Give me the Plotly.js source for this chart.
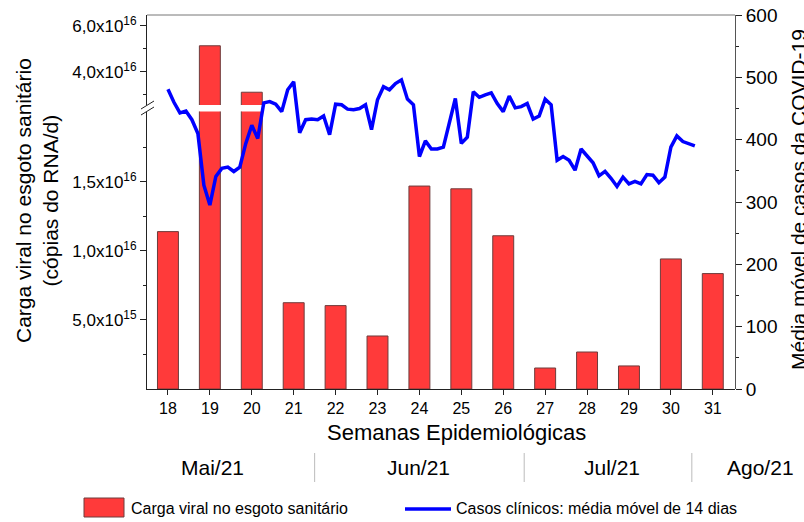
<!DOCTYPE html>
<html>
<head>
<meta charset="utf-8">
<script src="https://cdn.plot.ly/plotly-3.0.1.min.js"></script>
<style>html,body{margin:0;padding:0;background:#fff;}#chart{width:804px;height:522px;}</style>
</head>
<body>
<div id="chart"></div>
<script>
// ---------------- data ----------------
const weeks = [18,19,20,21,22,23,24,25,26,27,28,29,30,31];
const weekLabels = ['18','19','20','21','22','23','24','25','26','27','28','29','30','31'];
const viralLoad = [1.14e16,5.14e16,3.12e16,6.25e15,6.04e15,3.84e15,1.47e16,1.45e16,1.11e16,1.52e15,2.68e15,1.67e15,9.42e15,8.36e15];
// 14-day moving average of clinical cases, one value per day starting at week 18
const lineStartWeek = 18;
const movingAvg = [481,460,443,446,432,410,327,295,341,354,356,349,356,394,423,402,459,461,457,445,
  480,493,411,432,433,432,438,408,457,456,449,448,450,456,416,464,485,480,490,496,
  465,456,373,398,385,385,388,426,466,394,404,477,468,472,475,458,445,470,451,453,
  458,433,438,465,456,367,373,367,351,385,375,363,342,349,338,325,340,329,333,329,
  344,343,331,340,388,406,397,393,390];
const lowTickVals = [5e15,1e16,1.5e16];
const lowTickText = ['5,0x10<sup>15</sup>','1,0x10<sup>16</sup>','1,5x10<sup>16</sup>'];
const lowMinorVals = [2.5e15,7.5e15,1.25e16,1.75e16];
const highTickVals = [4e16,6e16];
const highTickText = ['4,0x10<sup>16</sup>','6,0x10<sup>16</sup>'];
const highMinorVals = [3e16,5e16];
const months = ['Mai/21','Jun/21','Jul/21','Ago/21'];
const monthCenters = [19.07,23.98,28.6,32.13];   // in week units
const monthBounds = [21.5,26.5,30.5];
const barName = 'Carga viral no esgoto sanitário';
const lineName = 'Casos clínicos: média móvel de 14 dias';

// ---------------- layout helpers ----------------
const L=147,R=735,T=15,B=389;
const XMIN=17.5, XMAX=31.53;
const fx = px => (px-L)/(R-L);
const fy = py => (B-py)/(B-T);
const wx = w => (w-XMIN)/(XMAX-XMIN);   // week -> paper x
const FONT = 'Liberation Sans, Arial, Helvetica, sans-serif';
const BAR_COLOR = '#ff3a3a';
const BAR_LINE = 'rgb(110,60,60)';
const BLUE = '#0000ff';

const lineX = movingAvg.map((v,i)=> lineStartWeek + i/7);

const traces = [
  {type:'bar', x:weeks, y:viralLoad, xaxis:'x', yaxis:'y', width:0.5, name:barName,
   marker:{color:BAR_COLOR, line:{color:BAR_LINE, width:1}}, hoverinfo:'skip'},
  {type:'bar', x:weeks, y:viralLoad, xaxis:'x', yaxis:'y2', width:0.5, name:barName,
   marker:{color:BAR_COLOR, line:{color:BAR_LINE, width:1}}, hoverinfo:'skip'},
  {type:'scatter', mode:'lines', x:lineX, y:movingAvg, xaxis:'x', yaxis:'y3', name:lineName,
   line:{color:BLUE, width:3.5}, hoverinfo:'skip'}
];

const leftAxisCommon = {
  tickmode:'array', ticks:'outside', ticklen:6, tickcolor:'#222', tickwidth:1,
  showline:true, linecolor:'#222', linewidth:1, showgrid:false, zeroline:false,
  tickfont:{size:17, color:'#000'}, anchor:'x', side:'left'
};

const shapes = [
  {type:'line', xref:'paper', yref:'paper', x0:0, x1:1, y0:1, y1:1, line:{color:'#777', width:1}},
  {type:'line', xref:'paper', yref:'paper', x0:fx(141), x1:fx(154), y0:fy(115), y1:fy(107), line:{color:'#222', width:1}},
  {type:'line', xref:'paper', yref:'paper', x0:fx(141), x1:fx(154), y0:fy(109), y1:fy(101), line:{color:'#222', width:1}},
  {type:'rect', xref:'paper', yref:'paper', x0:fx(84), x1:fx(124), y0:fy(517), y1:fy(498),
   fillcolor:BAR_COLOR, line:{color:BAR_LINE, width:1}},
  {type:'line', xref:'paper', yref:'paper', x0:fx(405), x1:fx(451), y0:fy(509), y1:fy(509),
   line:{color:BLUE, width:3.5}}
];
monthBounds.forEach(b => shapes.push({type:'line', xref:'paper', yref:'paper', x0:wx(b), x1:wx(b),
  y0:fy(453), y1:fy(482), line:{color:'#bbb', width:1}}));

const annotations = [
  {text:'Semanas Epidemiológicas', xref:'paper', yref:'paper', x:fx(456), y:fy(432),
   xanchor:'center', yanchor:'middle', showarrow:false, font:{size:22}},
  {text:'Carga viral no esgoto sanitário<br>(cópias do RNA/d)', xref:'paper', yref:'paper',
   x:fx(37), y:fy(200), xanchor:'center', yanchor:'middle', textangle:-90, showarrow:false, font:{size:21}},
  {text:'Média móvel de casos da COVID-19', xref:'paper', yref:'paper',
   x:fx(798), y:fy(200), xanchor:'center', yanchor:'middle', textangle:-90, showarrow:false, font:{size:21}},
  {text:barName, xref:'paper', yref:'paper', x:fx(129), y:fy(508), xanchor:'left', yanchor:'middle',
   showarrow:false, font:{size:16}},
  {text:lineName, xref:'paper', yref:'paper', x:fx(454), y:fy(508), xanchor:'left', yanchor:'middle',
   showarrow:false, font:{size:16}}
];
months.forEach((m,i) => annotations.push({text:m, xref:'paper', yref:'paper', x:wx(monthCenters[i]), y:fy(467),
  xanchor:'center', yanchor:'middle', showarrow:false, font:{size:21}}));

const layout = {
  width:804, height:522,
  margin:{l:L, r:804-R, t:T, b:522-B, pad:0},
  paper_bgcolor:'#fff', plot_bgcolor:'rgba(0,0,0,0)',
  showlegend:false,
  font:{family:FONT, color:'#000'},
  xaxis:{range:[XMIN,XMAX], tickmode:'array', tickvals:weeks, ticktext:weekLabels,
    ticks:'outside', ticklen:5, tickcolor:'#222', showline:true, linecolor:'#222', linewidth:1,
    showgrid:false, zeroline:false, tickfont:{size:16, color:'#000'}, anchor:'y'},
  yaxis:Object.assign({}, leftAxisCommon, {domain:[0, fy(111.5)], range:[0,2.01e16],
    tickvals:lowTickVals, ticktext:lowTickText,
    minor:{tickmode:'array', tickvals:lowMinorVals, ticks:'outside', ticklen:3, tickcolor:'#222'}}),
  yaxis2:Object.assign({}, leftAxisCommon, {domain:[fy(105), 1], range:[2.565e16,6.478e16],
    tickvals:highTickVals, ticktext:highTickText,
    minor:{tickmode:'array', tickvals:highMinorVals, ticks:'outside', ticklen:3, tickcolor:'#222'}}),
  yaxis3:{domain:[0,1], range:[0,600], side:'right', anchor:'x', tickmode:'linear', tick0:0, dtick:100,
    ticks:'outside', ticklen:6, tickcolor:'#222',
    minor:{dtick:50, ticks:'outside', ticklen:3, tickcolor:'#222'},
    showline:true, linecolor:'#555', linewidth:1, showgrid:false, zeroline:false,
    tickfont:{size:19, color:'#000'}},
  shapes:shapes,
  annotations:annotations
};

Plotly.newPlot('chart', traces, layout, {staticPlot:true, displayModeBar:false});
</script>
</body>
</html>
